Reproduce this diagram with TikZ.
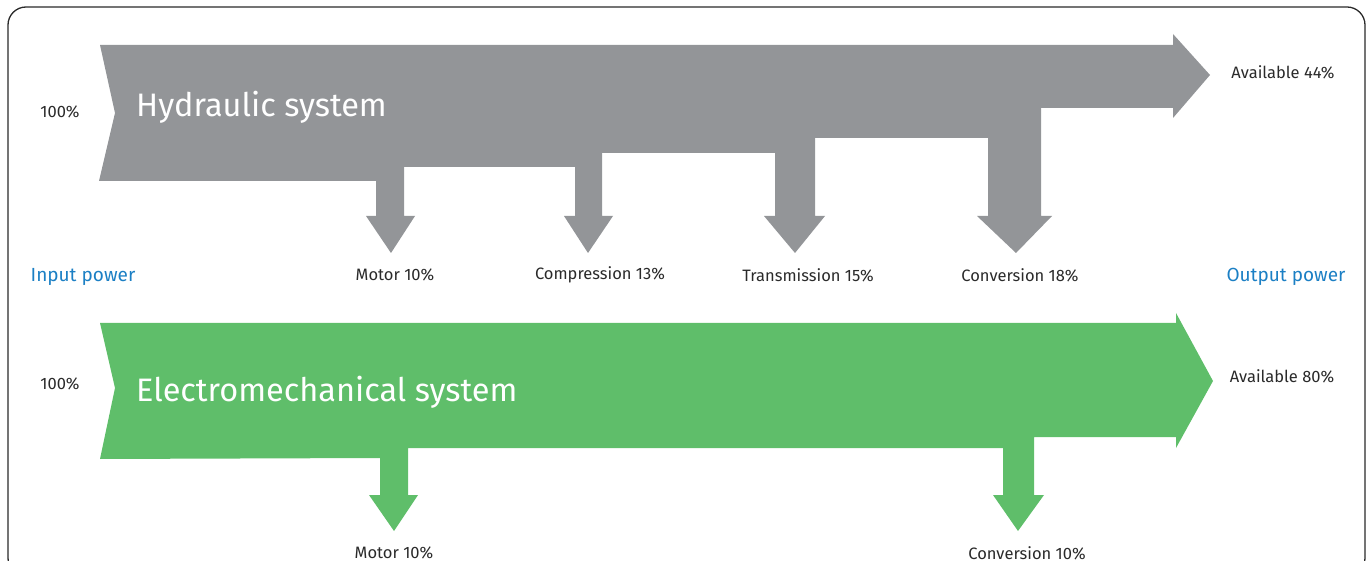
\documentclass[tikz,border=0pt]{standalone}
\usepackage{fontspec}
\setmainfont{Fira Sans}
\definecolor{hgray}{HTML}{939598}
\definecolor{egreen}{HTML}{5FBE6A}
\definecolor{pblue}{HTML}{1B7FC4}
\definecolor{tdark}{HTML}{2A2A2A}
\tikzset{
  lbl/.style={text=tdark, font=\fontsize{16.5}{19}\selectfont, inner sep=0pt},
  bluelbl/.style={text=pblue, font=\fontsize{19}{22}\selectfont, inner sep=0pt},
  title/.style={text=white, font=\fontsize{32.5}{38}\selectfont, inner sep=0pt, anchor=west},
  frame/.style={draw=tdark, line width=1.3pt, rounded corners=18pt}
}
\begin{document}
\begin{tikzpicture}[x=1pt,y=-1pt]
\useasboundingbox (0,0) rectangle (1369,561);
\clip (0,0) rectangle (1369,561);
\draw[frame] (8,7) rectangle (1365,576);
% hydraulic flow
\fill[hgray] (100,45) -- (1173,45) -- (1173,34) -- (1210,75) -- (1173,118) -- (1173,108) -- (1041,108) -- (1041,216) -- (1052,216) -- (1016,253) -- (977,216) -- (988,216) -- (988,138) -- (815,138) -- (815,216) -- (825,216) -- (795,253) -- (764,216) -- (775,216) -- (775,153) -- (602,153) -- (602,216) -- (613,216) -- (588,253) -- (564,216) -- (575,216) -- (575,167) -- (404,167) -- (404,216) -- (415,216) -- (391,253) -- (366,216) -- (376,216) -- (376,181) -- (99,181) -- (115,113) -- cycle;
% electromechanical flow
\fill[egreen] (100,323) -- (1176,323) -- (1176,313) -- (1213,381) -- (1176,448) -- (1176,437) -- (1034,437) -- (1034,495) -- (1044,495) -- (1018,531) -- (993,495) -- (1003,495) -- (1003,448) -- (408,448) -- (408,495) -- (418,495) -- (394,531) -- (369,495) -- (380,495) -- (380,458) -- (100,459) -- (115,388) -- cycle;
% texts
\node[title] (ht) at (136,107) {Hydraulic system};
\node[title] (et) at (136,392) {Electromechanical system};
\node[lbl] (h100) at (60,112) {100\%};
\node[lbl] (e100) at (60,384) {100\%};
\node[lbl] (hav) at (1283,72) {Available 44\%};
\node[lbl] (eav) at (1282,376) {Available 80\%};
\node[lbl] (hm) at (395,275) {Motor 10\%};
\node[lbl] (hc) at (600,275) {Compression 13\%};
\node[lbl] (ht2) at (808,275) {Transmission 15\%};
\node[lbl] (hv) at (1020,275) {Conversion 18\%};
\node[lbl] (em) at (394,553) {Motor 10\%};
\node[lbl] (ev) at (1027,553) {Conversion 10\%};
\node[bluelbl] (inp) at (83,277) {Input power};
\node[bluelbl] (outp) at (1286,277) {Output power};
\end{tikzpicture}
\end{document}
